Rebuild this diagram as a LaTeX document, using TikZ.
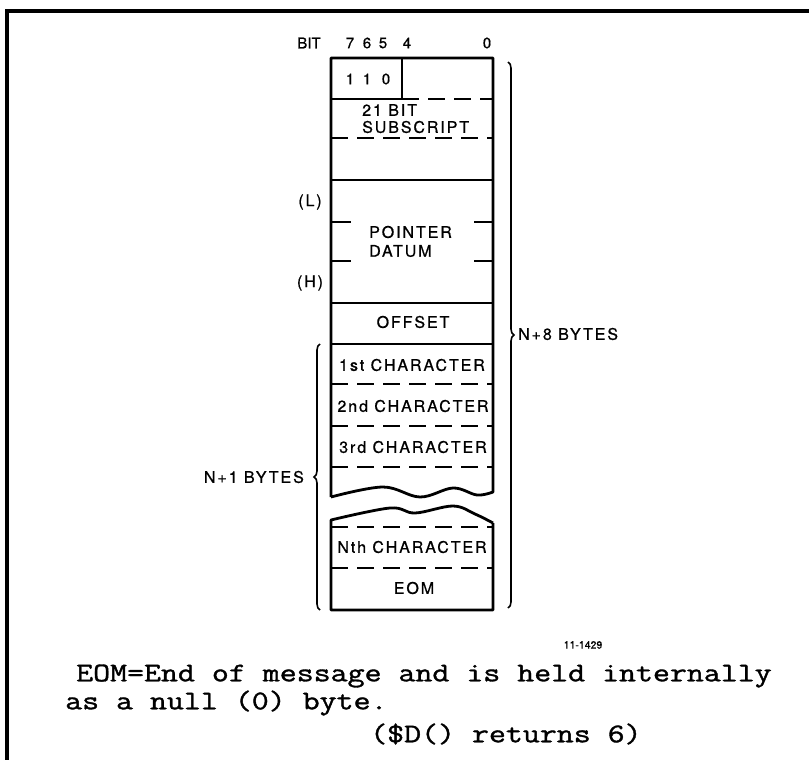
\documentclass[tikz,border=0pt]{standalone}
\usepackage{fontspec}
\newfontfamily\lab[LetterSpace=12, FakeBold=0.8]{TeX Gyre Heros}
\newfontfamily\labn[FakeBold=0.8]{TeX Gyre Heros}
\newfontfamily\monof[FakeBold=1.2]{Latin Modern Mono}
\usetikzlibrary{decorations.pathreplacing}
\begin{document}
\begin{tikzpicture}[x=1pt,y=-1pt,
  lbl/.style={font=\lab\fontsize{16}{19}\selectfont, inner sep=0pt},
  hdr/.style={font=\labn\fontsize{15}{17}\selectfont, inner sep=0pt},
  mono/.style={font=\monof\fontsize{27}{30}\selectfont, inner sep=0pt, anchor=west},
  outl/.style={line width=2.8pt, line join=round},
  solidln/.style={line width=2pt},
  dashln/.style={line width=2pt, dash pattern=on 17pt off 9pt},
  bracel/.style={line width=1.6pt, decorate, decoration={brace, amplitude=6pt}}]
\useasboundingbox (0,0) rectangle (809,760);
% frame
\draw[line width=4.5pt] (7,760) -- (7,11) -- (809,11);
% header
\node[hdr] (bit) at (309,43) {BIT};
\node[hdr] (b7) at (350,43) {7};
\node[hdr] (b6) at (367,43) {6};
\node[hdr] (b5) at (383,43) {5};
\node[hdr] (b4) at (407,43) {4};
\node[hdr] (b0) at (487,43) {0};
% upper outline
\draw[outl] (331,497) -- (331,58) -- (493,58) -- (493,492)
  -- plot[smooth, tension=0.6] coordinates {(493,492) (477,495) (453,488) (420,497) (383,487) (331,497)};
% lower outline
\draw[outl] (493,523) -- (493,610) -- (331,610) -- (331,520)
  -- plot[smooth, tension=0.6] coordinates {(331,520) (390,508) (415,513) (453,506) (475,514) (493,523)};
% row 1
\draw[solidln] (402,58) -- (402,99);
\draw[solidln] (331,99) -- (402,99);
\draw[dashln] (402,99) -- (493,99);
\node[hdr] (d7) at (350,79) {1};
\node[hdr] (d6) at (367,79) {1};
\node[hdr] (d5) at (386,79) {0};
% subscript
\node[lbl, anchor=west] (s1) at (362,110) {21 BIT};
\node[lbl, anchor=west] (s2) at (362,127) {SUBSCRIPT};
\draw[dashln] (331,138) -- (493,138);
\draw[solidln] (331,180) -- (493,180);
% pointer datum
\draw[solidln] (331,222) -- (351,222);
\draw[solidln] (474,222) -- (493,222);
\draw[solidln] (331,261) -- (351,261);
\draw[solidln] (474,261) -- (493,261);
\node[lbl, anchor=west] (p1) at (369,232) {POINTER};
\node[lbl, anchor=west] (p2) at (369,251) {DATUM};
\node[lbl] (lo) at (310,202) {(L)};
\node[lbl] (hi) at (310,283) {(H)};
\draw[solidln] (331,303) -- (493,303);
\node[lbl] (off) at (413,322) {OFFSET};
\draw[solidln] (331,344) -- (493,344);
% characters
\node[lbl] (c1) at (412,365) {1st CHARACTER};
\draw[dashln] (331,384) -- (493,384);
\node[lbl] (c2) at (413,406) {2nd CHARACTER};
\draw[dashln] (331,426) -- (493,426);
\node[lbl] (c3) at (413,447) {3rd CHARACTER};
\draw[dashln] (331,467) -- (493,467);
\draw[dashln] (331,527) -- (493,527);
\node[lbl] (cn) at (412,547) {Nth CHARACTER};
\draw[dashln] (331,568) -- (493,568);
\node[lbl] (eom) at (414,588) {EOM};
% braces
\coordinate (rbt) at (508,62);
\coordinate (rbb) at (508,608);
\draw[bracel] (rbt) -- (rbb);
\node[lbl, anchor=west] (n8) at (518,334) {N+8 BYTES};
\coordinate (lbt) at (320,344);
\coordinate (lbb) at (320,610);
\draw[bracel] (lbb) -- (lbt);
\node[lbl, anchor=east] (n1) at (304,477) {N+1 BYTES};
% figure number
\node[font=\labn\fontsize{10.5}{12}\selectfont, inner sep=0pt] (fig) at (583,645) {11-1429};
% notes
\node[mono] (t1) at (76,676) {\scalebox{1.22}[1]{EOM=End of message and is held internally}};
\node[mono] (t2) at (65,703) {\scalebox{1.22}[1]{as a null (0) byte.}};
\node[mono] (t3) at (370,734) {\scalebox{1.22}[1]{(\$D() returns 6)}};
\end{tikzpicture}
\end{document}
